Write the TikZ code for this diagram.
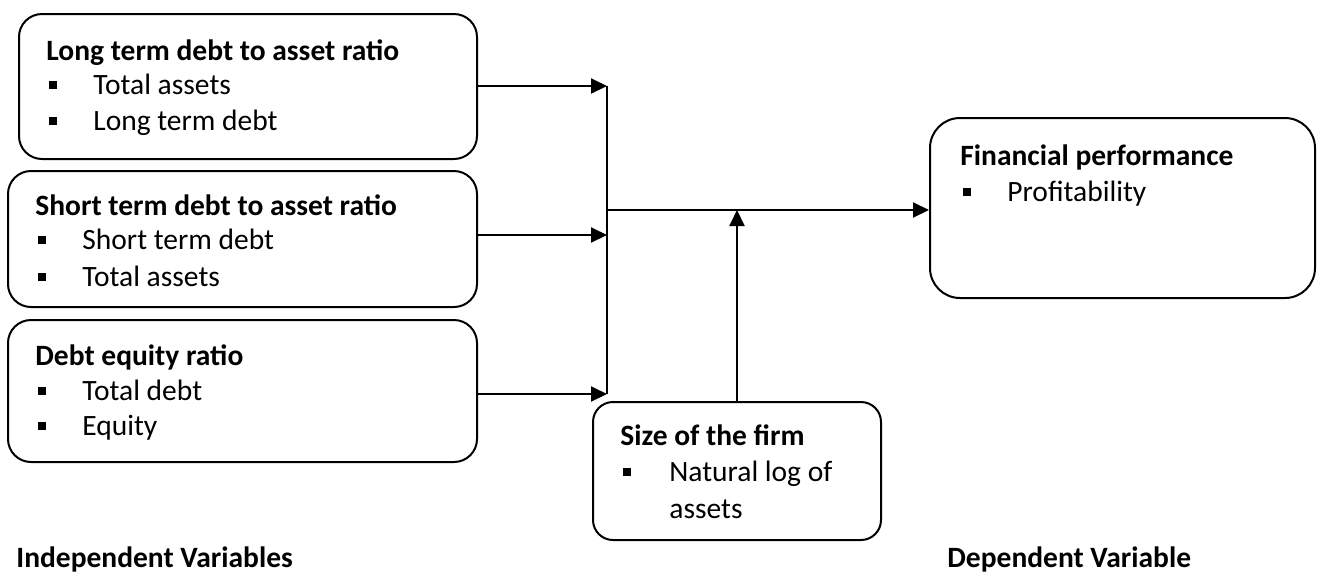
\documentclass[tikz,border=0pt]{standalone}
\usepackage{fontspec}
\setmainfont{Carlito}
\usetikzlibrary{arrows.meta}
\tikzset{
  box/.style={draw, line width=1pt, rounded corners=11.5pt, inner sep=0pt},
  ttl/.style={anchor=mid west, inner sep=0pt, yshift=-2pt, font=\fontsize{14.75}{18}\selectfont\bfseries},
  itm/.style={anchor=mid west, inner sep=0pt, yshift=-2pt, font=\fontsize{14.75}{18}\selectfont},
  bul/.style={anchor=west, fill=black, inner sep=0pt, minimum size=3.8pt, yshift=0.5pt},
  arr/.style={line width=1pt, -{Triangle[length=8pt,width=7.5pt]}},
  link/.style={line width=0.75pt},
}
\begin{document}
\begin{tikzpicture}[x=0.5pt,y=-0.5pt]
\useasboundingbox (0,0) rectangle (1317,574);
% boxes
\node[box, minimum width=229pt, minimum height=72.5pt] (b1) at (248,86.5) {};
\node[box, minimum width=234.5pt, minimum height=68pt] (b2) at (242.5,239) {};
\node[box, minimum width=234.5pt, minimum height=71pt] (b3) at (242.5,391) {};
\node[box, rounded corners=10pt, minimum width=144pt, minimum height=69pt] (b4) at (737,471) {};
\node[box, rounded corners=15pt, minimum width=192.5pt, minimum height=90pt] (b5) at (1122.5,208) {};
% box 1 text
\node[ttl] (t1) at (46,52) {Long term debt to asset ratio};
\node[bul] (u11) at (49,86) {};
\node[itm] (i11) at (93,86) {Total assets};
\node[bul] (u12) at (49,122) {};
\node[itm] (i12) at (93,122) {Long term debt};
% box 2 text
\node[ttl] (t2) at (35,207) {Short term debt to asset ratio};
\node[bul] (u21) at (38,241) {};
\node[itm] (i21) at (82,241) {Short term debt};
\node[bul] (u22) at (38,278) {};
\node[itm] (i22) at (82,278) {Total assets};
% box 3 text
\node[ttl] (t3) at (35,357) {Debt equity ratio};
\node[bul] (u31) at (38,392) {};
\node[itm] (i31) at (82,392) {Total debt};
\node[bul] (u32) at (38,427) {};
\node[itm] (i32) at (82,427) {Equity};
% box 4 text
\node[ttl] (t4) at (620,437) {Size of the firm};
\node[bul] (u41) at (623,473) {};
\node[itm] (i41) at (669,473) {Natural log of};
\node[itm] (i42) at (669,510) {assets};
% box 5 text
\node[ttl] (t5) at (960,157) {Financial performance};
\node[bul] (u51) at (963,193) {};
\node[itm] (i51) at (1007,193) {Profitability};
% captions
\node[ttl] (c1) at (16,559) {Independent Variables};
\node[ttl] (c2) at (947,559) {Dependent Variable};
% junction points
\coordinate (j1) at (607,86);
\coordinate (j2) at (607,235);
\coordinate (j3) at (607,394);
\coordinate (jm) at (607,210);
% connectors
\draw[arr] (b1.east |- j1) -- (j1);
\draw[arr] (b2.east |- j2) -- (j2);
\draw[arr] (b3.east |- j3) -- (j3);
\draw[link] (j1) -- (j3);
\draw[arr] (jm) -- (jm -| b5.west);
\draw[arr] (b4.north) -- (b4.north |- jm);
\end{tikzpicture}
\end{document}
